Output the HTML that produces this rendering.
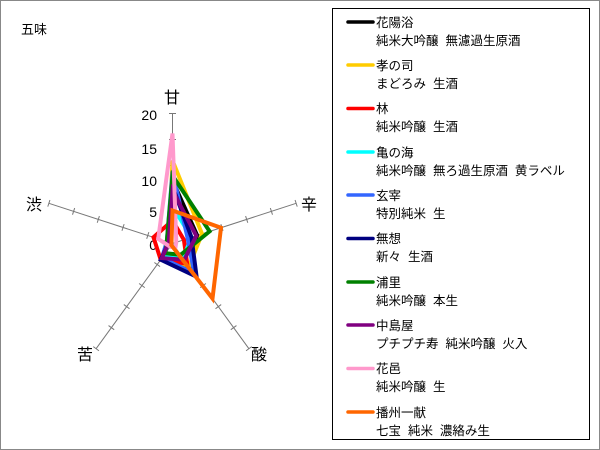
<!DOCTYPE html>
<html><head><meta charset="utf-8"><style>
body{margin:0;background:#fff}
svg{display:block}
text{font-family:"Liberation Sans","Noto Sans CJK JP",sans-serif;fill:#000;white-space:pre}
</style></head><body>
<svg width="600" height="450" viewBox="0 0 600 450">
<rect x="0.5" y="0.5" width="599" height="449" fill="#fff" stroke="#888"/>
<text x="21" y="34" font-size="13">五味</text>
<g stroke="#777" stroke-width="1" fill="none">
<g id="ax"><line x1="172.5" y1="243.5" x2="172.5" y2="113.5"/>
<line x1="169" y1="217.5" x2="176" y2="217.5"/><line x1="169" y1="191.5" x2="176" y2="191.5"/><line x1="169" y1="165.5" x2="176" y2="165.5"/><line x1="169" y1="139.5" x2="176" y2="139.5"/><line x1="169" y1="113.5" x2="176" y2="113.5"/></g>
<use href="#ax" transform="rotate(72 172.5 243.5)"/>
<use href="#ax" transform="rotate(144 172.5 243.5)"/>
<use href="#ax" transform="rotate(216 172.5 243.5)"/>
<use href="#ax" transform="rotate(288 172.5 243.5)"/>
</g>
<g font-size="14" text-anchor="end">
<text x="157" y="120">20</text><text x="157" y="154">15</text><text x="157" y="186">10</text><text x="157" y="217">5</text><text x="157" y="250">0</text>
</g>
<g font-size="16" text-anchor="middle">
<text x="172" y="103">甘</text><text x="309" y="210">辛</text><text x="259" y="360">酸</text><text x="85" y="360">苦</text><text x="34" y="210">渋</text>
</g>
<g fill="none" stroke-width="4" stroke-linejoin="miter">
<polygon stroke="#000" points="172.5,180.5 197.2,235.5 190.1,267.8 161.9,258.1 168.7,242.3"/>
<polygon stroke="#ffcc00" points="172.5,160.5 202,233.9 189,266.2 163.1,256.4 168.7,242.3"/>
<polygon stroke="#ff0000" points="172.5,220.5 183.9,239.8 187.2,263.7 160.7,259.7 153.5,237.3"/>
<polygon stroke="#00ffff" points="172.5,206.5 191.5,237.3 183.1,258.1 163.1,256.4 168.7,242.3"/>
<polygon stroke="#3366ff" points="172.5,171.5 187.7,238.6 194.3,273.4 161.9,258.1 166.8,241.6"/>
<polygon stroke="#000080" points="172.5,186.5 191.5,237.3 196.6,276.7 160.7,259.7 168.7,242.3"/>
<polygon stroke="#008000" points="172.5,175.5 209.6,231.4 180.7,254.8 165.4,253.2 166.8,241.6"/>
<polygon stroke="#800080" points="172.5,190.5 196.3,235.8 184.3,259.7 161.9,258.1 168.7,242.3"/>
<polygon stroke="#ff99cc" points="172.5,133.5 176.3,242.3 175.4,247.5 170.1,246.7 158.2,238.9"/>
<polygon stroke="#ff6600" points="172.5,210.5 221,227.7 212.5,298.5 171.3,245.1 171.5,243.2"/>
</g>
<rect x="332.5" y="8.5" width="257" height="431" fill="#fff" stroke="#000"/>
<g stroke-width="3.5" stroke-linecap="round">
<line x1="348" y1="22" x2="373" y2="22" stroke="#000"/>
<line x1="348" y1="65" x2="373" y2="65" stroke="#ffcc00"/>
<line x1="348" y1="108.5" x2="373" y2="108.5" stroke="#ff0000"/>
<line x1="348" y1="152" x2="373" y2="152" stroke="#00ffff"/>
<line x1="348" y1="195" x2="373" y2="195" stroke="#3366ff"/>
<line x1="348" y1="238.5" x2="373" y2="238.5" stroke="#000080"/>
<line x1="348" y1="282" x2="373" y2="282" stroke="#008000"/>
<line x1="348" y1="325" x2="373" y2="325" stroke="#800080"/>
<line x1="348" y1="368.5" x2="373" y2="368.5" stroke="#ff99cc"/>
<line x1="348" y1="412" x2="373" y2="412" stroke="#ff6600"/>
</g>
<g font-size="12.5" fill="#000">
<text x="376" y="27">花陽浴</text><text x="376" y="45">純米大吟醸  無濾過生原酒</text>
<text x="376" y="70">孝の司</text><text x="376" y="88">まどろみ  生酒</text>
<text x="376" y="113">林</text><text x="376" y="131">純米吟醸  生酒</text>
<text x="376" y="157">亀の海</text><text x="376" y="175">純米吟醸  無ろ過生原酒  黄ラベル</text>
<text x="376" y="200">玄宰</text><text x="376" y="218">特別純米  生</text>
<text x="376" y="243">無想</text><text x="376" y="261">新々  生酒</text>
<text x="376" y="287">浦里</text><text x="376" y="305">純米吟醸  本生</text>
<text x="376" y="330">中島屋</text><text x="376" y="348">プチプチ寿  純米吟醸  火入</text>
<text x="376" y="373">花邑</text><text x="376" y="391">純米吟醸  生</text>
<text x="376" y="417">播州一献</text><text x="376" y="435">七宝  純米  濃絡み生</text>
</g>
</svg>
</body></html>
